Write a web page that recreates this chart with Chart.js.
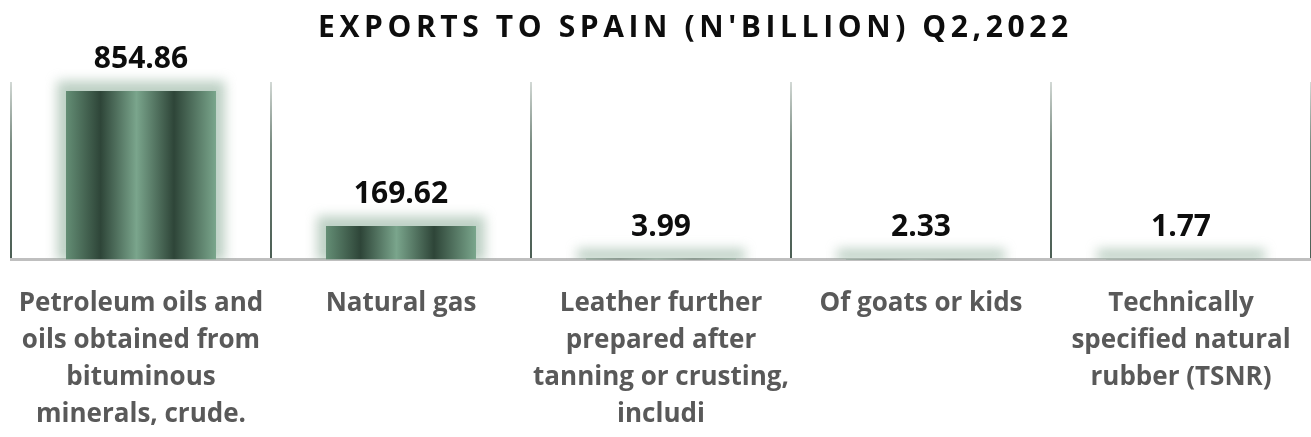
<!DOCTYPE html>
<html>
<head>
<meta charset="utf-8">
<script src="https://cdn.jsdelivr.net/npm/chart.js@4.4.1/dist/chart.umd.min.js"></script>
<style>
  body { margin: 0; background: #fff; }
  #wrap { position: relative; width: 1311px; height: 437px; }
  #title {
    position: absolute; left: 318px; top: 5px;
    font: 700 30px 'Open Sans'; letter-spacing: 4.6px;
    color: #0d0d0d; white-space: nowrap;
  }
</style>
</head>
<body>
<div id="wrap">
  <canvas id="graph" width="1311" height="437"></canvas>
  <div id="title">EXPORTS TO SPAIN (N'BILLION) Q2,2022</div>
</div>
<script>
// chart data
const categories = [
    ["Petroleum oils and", "oils obtained from", "bituminous", "minerals, crude."],
    ["Natural gas"],
    ["Leather further", "prepared after", "tanning or crusting,", "includi"],
    ["Of goats or kids"],
    ["Technically", "specified natural", "rubber (TSNR)"]
];
const exportValues = [854.86, 169.62, 3.99, 2.33, 1.77];
const yMax = 900;

const catPct = 0.577;

// vertical stripes across each bar
function barFill(c) {
    const chart = c.chart;
    if (!chart.chartArea || c.dataIndex === undefined) return '#5e8a70';
    const xs = chart.scales.x;
    const cx = xs.getPixelForValue(c.dataIndex);
    const half = xs.width / categories.length * catPct / 2;
    const g = chart.ctx.createLinearGradient(cx - half, 0, cx + half, 0);
    g.addColorStop(0, '#648e75');
    g.addColorStop(0.23, '#2e4538');
    g.addColorStop(0.47, '#7aa58c');
    g.addColorStop(0.72, '#2e4538');
    g.addColorStop(1, '#7aa68c');
    return g;
}

function gridFill(c) {
    const chart = c.chart;
    const a = chart.chartArea;
    if (!a) return '#5f7268';
    const g = chart.ctx.createLinearGradient(0, a.top, 0, a.bottom);
    g.addColorStop(0, 'rgba(110,130,118,0.3)');
    g.addColorStop(0.35, '#788a80');
    g.addColorStop(1, '#4a5d53');
    return g;
}

// soft green glow behind bars
const glowPlugin = {
    id: 'glow',
    beforeDatasetsDraw(chart) {
        const ctx = chart.ctx;
        const meta = chart.getDatasetMeta(0);
        ctx.save();
        ctx.beginPath();
        ctx.rect(0, 0, chart.width, chart.chartArea.bottom);
        ctx.clip();
        ctx.filter = 'blur(6px)';
        ctx.fillStyle = 'rgba(135,170,148,0.55)';
        meta.data.forEach(el => {
            const p = el.getProps(['x', 'y', 'base', 'width'], true);
            ctx.fillRect(p.x - p.width / 2 - 9, p.y - 10, p.width + 18, p.base - p.y + 12);
        });
        ctx.restore();
    }
};

const valueLabels = {
    id: 'valueLabels',
    afterDatasetsDraw(chart) {
        const ctx = chart.ctx;
        const meta = chart.getDatasetMeta(0);
        ctx.save();
        ctx.font = '700 30px "Open Sans"';
        ctx.fillStyle = '#0d0d0d';
        ctx.textAlign = 'center';
        ctx.textBaseline = 'alphabetic';
        meta.data.forEach((el, i) => {
            ctx.fillText(exportValues[i].toFixed(2), el.x, el.y - 23);
        });
        ctx.restore();
    }
};

new Chart(document.getElementById('graph'), {
    type: 'bar',
    data: {
        labels: categories,
        datasets: [{
            data: exportValues,
            backgroundColor: barFill,
            borderWidth: 0,
            barPercentage: 1,
            categoryPercentage: catPct
        }]
    },
    options: {
        responsive: false,
        animation: false,
        layout: { padding: { top: 82, left: 11, right: 0, bottom: 0 } },
        plugins: {
            legend: { display: false },
            title: { display: false },
            tooltip: { enabled: false }
        },
        scales: {
            x: {
                grid: { offset: true, color: gridFill, lineWidth: 2, drawTicks: false },
                border: { display: true, color: '#bfbfbf', width: 3 },
                ticks: {
                    padding: 26,
                    color: '#595959',
                    font: { family: 'Open Sans', weight: '700', size: 26, lineHeight: 1.42 },
                    maxRotation: 0, autoSkip: false
                },
                afterFit: s => { s.paddingLeft = 0; s.paddingRight = 0; }
            },
            y: {
                display: false,
                min: 0,
                max: yMax
            }
        }
    },
    plugins: [glowPlugin, valueLabels]
});
</script>
</body>
</html>
